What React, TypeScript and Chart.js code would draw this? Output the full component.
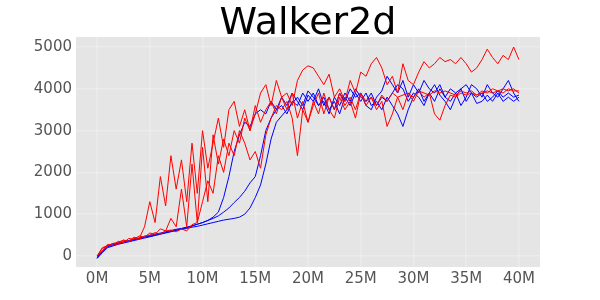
import React, { useEffect, useRef } from "react";
import { Chart, registerables } from "chart.js";

Chart.register(...registerables);

const TITLE = "Walker2d";
const STEP_M = 0.5;
const X_TICKS = [0, 5, 10, 15, 20, 25, 30, 35, 40];
const Y_TICKS = [0, 1000, 2000, 3000, 4000, 5000];

const redA = [0,180,240,300,280,380,350,450,420,700,1300,800,1900,1200,2400,1600,2300,1300,2700,1500,3000,2100,2700,3300,2600,3500,3700,3100,3500,3000,3400,3900,4100,3600,4200,3800,3900,3600,4200,4450,4550,4500,4300,4100,4350,3800,4000,3700,4200,3900,4400,4300,4600,4750,4500,4100,4300,3900,4600,4200,4100,4400,4650,4500,4600,4750,4650,4700,4600,4750,4600,4400,4500,4700,4950,4750,4600,4800,4700,5000,4700];
const redB = [0,120,280,250,350,320,420,400,480,450,550,520,650,600,900,700,1600,700,2200,800,2600,1300,2900,2200,2800,2400,3000,2700,3300,3000,3600,3200,3500,3700,3400,3800,3500,3900,3300,3700,3200,3600,3900,3400,3800,3500,3900,3600,3800,3500,3900,3700,3800,3600,3850,3700,3900,3800,3850,3900,3800,3950,3900,3850,3950,3900,3950,3900,3850,3950,3900,3950,3850,3900,3950,3900,3950,3900,4000,3950,3950];
const redC = [0,200,250,300,330,380,350,420,400,480,500,560,520,600,620,580,650,600,750,800,1300,1800,1500,2400,2000,2700,2400,3000,2700,2300,2500,2100,2900,3300,3600,3500,3700,3300,2400,3500,3200,3700,3400,3900,3500,3300,3800,3500,3700,3300,3900,3600,3800,3500,3700,3100,3400,3800,3500,3900,3700,3950,3800,3900,3400,3250,3600,3850,3800,3900,3850,3900,3850,3950,3900,4000,3950,4000,3950,4000,3900];
const blueA = [-50,100,220,260,300,330,360,390,420,450,470,500,530,560,590,620,650,680,720,760,800,850,930,1050,1400,1900,2500,2900,3200,3100,3400,3500,3400,3700,3500,3800,3600,3900,3700,3500,3850,3700,4000,3600,3800,3500,3900,3700,4000,3800,3900,3600,3500,3800,3950,4300,4100,3900,4200,3800,4100,3900,4200,4000,3900,4100,3800,4000,3900,3600,3800,4100,4000,3800,4100,3900,3800,4000,4200,3900,3700];
const blueB = [-30,120,240,270,310,340,370,400,430,460,490,520,550,580,610,640,660,690,720,760,800,850,900,960,1050,1150,1280,1400,1550,1750,1900,2400,3000,3300,3500,3600,3400,3700,3600,3900,3700,3900,3600,3800,3500,3700,3400,3800,3600,3900,3700,3900,3600,3700,3500,3800,3600,3400,3100,3500,3800,4000,3700,3900,3700,4000,3800,3700,3900,4000,3700,3900,3650,3700,3850,3700,3900,3700,3800,3700,3800];
const blueC = [-60,80,200,240,280,310,340,370,400,430,460,490,520,550,580,610,640,660,690,710,740,770,800,830,860,880,900,930,1000,1150,1400,1700,2200,2800,3200,3350,3500,3650,3800,3600,3950,3800,3600,3700,3400,3800,3600,3900,3700,4000,3800,3700,3900,3600,3800,3700,3900,4100,4000,3700,3900,3800,3600,3900,4100,3850,3700,3500,3800,4000,4100,3900,3800,3900,3700,3800,3950,3800,3900,3800,3850];

const SERIES = [
  { name: "red1", values: redA, color: "#ff0000" },
  { name: "red2", values: redB, color: "#ff0000" },
  { name: "red3", values: redC, color: "#ff0000" },
  { name: "blue1", values: blueA, color: "#0000ff" },
  { name: "blue2", values: blueB, color: "#0000ff" },
  { name: "blue3", values: blueC, color: "#0000ff" },
];

export default function App() {
  const ref = useRef<HTMLCanvasElement | null>(null);

  useEffect(() => {
    document.body.style.margin = "0";
    const canvas = ref.current;
    if (!canvas) return;

    const bgPlugin = {
      id: "bgPlugin",
      beforeDraw(chart: any) {
        const { ctx, chartArea } = chart;
        ctx.save();
        ctx.fillStyle = "#e5e5e5";
        ctx.fillRect(chartArea.left, chartArea.top, chartArea.right - chartArea.left, chartArea.bottom - chartArea.top);
        ctx.restore();
      },
      afterDraw(chart: any) {
        const { ctx, chartArea } = chart;
        ctx.save();
        ctx.fillStyle = "#000000";
        ctx.font = '38px "DejaVu Sans"';
        ctx.textAlign = "center";
        ctx.textBaseline = "alphabetic";
        ctx.fillText(TITLE, (chartArea.left + chartArea.right) / 2, 34);
        ctx.restore();
      },
    };

    const chart = new Chart(canvas, {
      type: "line",
      data: {
        datasets: SERIES.map((s) => ({
          label: s.name,
          data: s.values.map((v, i) => ({ x: i * STEP_M, y: v })),
          borderColor: s.color,
          backgroundColor: s.color,
          borderWidth: 1,
          pointRadius: 0,
          tension: 0,
          fill: false,
        })),
      },
      options: {
        animation: false,
        responsive: false,
        maintainAspectRatio: false,
        layout: { padding: { top: 37, right: 60, left: 0, bottom: 0 } },
        plugins: {
          legend: { display: false },
          title: { display: false },
          tooltip: { enabled: false },
        },
        scales: {
          x: {
            type: "linear",
            min: -2,
            max: 42,
            afterBuildTicks(scale: any) {
              scale.ticks = X_TICKS.map((v) => ({ value: v }));
            },
            afterFit(scale: any) {
              scale.height = 33;
            },
            border: { display: false },
            grid: { color: "rgba(255,255,255,0.25)", lineWidth: 1.5, drawTicks: false },
            ticks: {
              color: "#555555",
              font: { family: "DejaVu Sans", size: 15 },
              padding: 3,
              maxRotation: 0,
              callback: (v: any) => `${v}M`,
            },
          },
          y: {
            type: "linear",
            min: -263,
            max: 5240,
            afterBuildTicks(scale: any) {
              scale.ticks = Y_TICKS.map((v) => ({ value: v }));
            },
            afterFit(scale: any) {
              scale.width = 76;
            },
            border: { display: false },
            grid: { color: "rgba(255,255,255,0.25)", lineWidth: 1.5, drawTicks: false },
            ticks: {
              color: "#555555",
              font: { family: "DejaVu Sans", size: 15 },
              padding: 4,
              callback: (v: any) => `${v}`,
            },
          },
        },
      },
      plugins: [bgPlugin],
    });

    return () => chart.destroy();
  }, []);

  return (
    <div style={{ width: 600, height: 300 }}>
      <canvas ref={ref} width={600} height={300} style={{ display: "block" }} />
    </div>
  );
}
